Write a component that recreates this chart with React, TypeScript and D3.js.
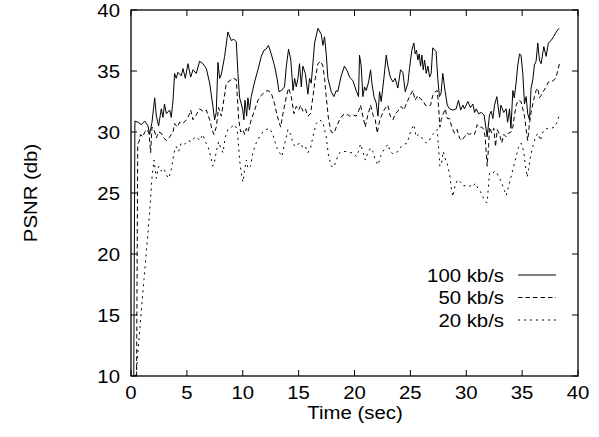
import React from "react";
import * as d3 from "d3";

// PSNR over time for three bitrates, [seconds, dB]
const psnr100: [number, number][] = [
  [0.25,10],[0.35,30.9],[0.63,30.8],[0.92,30.6],[1.22,30.9],[1.52,30.5],[1.67,29.8],[1.88,30.8],[2.12,32.8],[2.27,31.3],[2.47,30.5],[2.71,31.9],[2.86,31.2],[3.0,32.3],[3.16,31.5],[3.46,31.8],[3.6,31.2],[3.76,32.6],[3.9,34.8],[4.05,34.4],[4.2,34.9],[4.5,34.6],[4.65,35.2],[4.86,34.4],[5.1,35.6],[5.34,34.5],[5.55,35.1],[5.84,34.8],[6.14,35.8],[6.44,35.6],[6.74,35.2],[7.04,34.0],[7.33,32.1],[7.48,31.0],[7.63,31.6],[7.78,35.7],[7.93,34.4],[8.08,34.7],[8.38,36.2],[8.67,38.2],[8.97,37.5],[9.21,37.6],[9.42,37.4],[9.57,34.8],[9.72,32.8],[9.87,32.3],[10.0,31.8],[10.1,31.0],[10.2,32.6],[10.35,31.3],[10.46,32.8],[10.6,31.8],[10.76,32.9],[11.06,34.1],[11.36,35.1],[11.66,36.2],[11.9,36.7],[12.1,36.8],[12.3,37.1],[12.55,36.4],[12.85,35.4],[13.09,34.3],[13.24,33.3],[13.45,33.4],[13.74,33.7],[13.9,35.4],[14.1,36.8],[14.3,35.9],[14.5,33.4],[14.64,34.4],[14.79,33.7],[14.94,34.4],[15.08,35.6],[15.24,33.7],[15.38,35.4],[15.6,34.8],[15.83,33.1],[15.98,34.4],[16.13,34.0],[16.43,37.3],[16.73,38.5],[17.03,38.0],[17.17,37.1],[17.32,37.8],[17.47,36.4],[17.62,34.4],[17.92,33.3],[18.15,32.9],[18.37,33.4],[18.5,33.3],[18.81,34.6],[19.1,35.4],[19.35,35.0],[19.56,34.5],[19.86,34.2],[20.15,33.4],[20.36,32.9],[20.45,36.3],[20.6,35.4],[20.75,32.9],[20.9,33.7],[21.05,33.4],[21.26,34.1],[21.44,35.1],[21.56,34.0],[21.74,32.9],[21.94,32.4],[22.1,31.3],[22.24,33.3],[22.39,32.5],[22.63,34.4],[22.84,36.3],[22.99,35.4],[23.2,34.5],[23.44,34.1],[23.64,34.4],[23.88,33.6],[24.12,35.1],[24.33,34.9],[24.54,33.3],[24.78,34.0],[24.92,35.2],[25.13,36.7],[25.31,37.3],[25.43,36.4],[25.55,36.7],[25.67,35.9],[25.79,36.4],[25.91,35.4],[26.03,36.3],[26.15,35.1],[26.27,35.9],[26.42,34.8],[26.57,35.4],[26.72,34.5],[26.86,34.8],[27.0,36.9],[27.3,36.6],[27.45,34.4],[27.6,32.9],[27.75,33.2],[27.9,34.8],[28.1,33.4],[28.3,32.2],[28.5,31.9],[28.8,31.8],[29.1,31.9],[29.3,32.6],[29.5,31.8],[29.7,32.2],[29.84,31.9],[30.14,32.5],[30.38,32.0],[30.59,32.3],[30.74,31.6],[30.9,31.9],[31.1,31.5],[31.34,31.6],[31.6,31.4],[31.87,29.6],[32.08,31.4],[32.23,31.7],[32.38,31.1],[32.53,32.2],[32.74,32.9],[32.98,31.2],[33.1,32.2],[33.36,31.6],[33.57,31.9],[33.7,30.8],[33.87,31.9],[34.0,30.3],[34.17,33.4],[34.3,32.8],[34.47,34.1],[34.6,35.4],[34.77,36.4],[34.9,36.3],[35.06,34.8],[35.21,32.3],[35.36,32.9],[35.5,31.5],[35.66,31.0],[35.8,33.6],[35.96,34.3],[36.1,35.5],[36.25,35.8],[36.4,37.3],[36.55,35.9],[36.7,35.6],[36.94,37.0],[37.15,36.2],[37.35,37.3],[37.6,37.5],[37.8,37.8],[38.05,38.2],[38.3,38.5],
];

const psnr50: [number, number][] = [
  [0.5,10],[0.6,29.0],[0.72,29.2],[0.86,29.8],[1.07,29.6],[1.22,30.0],[1.46,30.2],[1.6,29.9],[1.76,28.3],[1.88,30.4],[2.06,30.2],[2.27,29.5],[2.47,30.0],[2.71,29.9],[2.86,29.6],[3.16,29.3],[3.46,29.6],[3.76,30.0],[3.9,30.7],[4.14,30.4],[4.35,30.8],[4.65,30.7],[4.95,31.0],[5.16,31.3],[5.34,31.8],[5.55,31.0],[5.84,31.4],[6.14,31.9],[6.44,31.7],[6.74,31.8],[7.04,31.0],[7.25,30.2],[7.42,29.8],[7.63,30.4],[7.84,32.0],[8.08,31.3],[8.53,34.0],[9.12,34.4],[9.42,34.3],[9.63,31.1],[9.81,30.0],[10.02,30.2],[10.17,29.8],[10.32,30.3],[10.46,30.0],[10.76,31.0],[11.06,31.8],[11.36,32.6],[11.66,33.0],[11.96,33.3],[12.25,33.4],[12.55,33.2],[12.85,32.3],[13.09,31.3],[13.39,30.4],[13.6,31.5],[13.9,32.9],[14.1,33.6],[14.34,32.9],[14.58,31.5],[14.79,32.1],[15.0,31.8],[15.18,32.2],[15.38,31.7],[15.6,31.9],[15.83,31.3],[16.07,31.5],[16.28,32.9],[16.49,34.4],[16.73,35.6],[16.97,35.8],[17.17,35.4],[17.32,34.4],[17.47,32.9],[17.68,31.0],[17.92,30.0],[18.15,29.9],[18.37,30.4],[18.66,31.0],[18.96,31.4],[19.26,31.5],[19.56,31.3],[19.86,31.4],[20.15,31.3],[20.36,31.7],[20.54,32.2],[20.75,31.3],[20.96,30.4],[21.2,31.4],[21.44,32.2],[21.65,31.4],[21.86,31.0],[22.03,29.9],[22.24,30.9],[22.45,31.4],[22.7,31.9],[22.99,32.2],[23.2,31.3],[23.44,31.0],[23.64,31.5],[23.88,31.7],[24.18,32.1],[24.42,31.8],[24.63,32.3],[24.93,32.9],[25.22,33.4],[25.43,32.6],[25.67,33.0],[25.91,32.7],[26.12,32.6],[26.33,32.2],[26.57,32.1],[26.8,32.2],[27.0,33.0],[27.22,33.3],[27.4,33.4],[27.52,32.1],[27.64,30.4],[27.76,31.0],[27.94,31.5],[28.12,31.9],[28.3,31.1],[28.5,31.1],[28.71,30.4],[28.95,29.9],[29.18,30.2],[29.4,29.5],[29.6,29.3],[29.84,29.6],[30.08,29.9],[30.29,29.8],[30.5,29.9],[30.74,29.8],[30.98,30.6],[31.19,30.4],[31.4,30.4],[31.57,30.2],[31.69,29.6],[31.87,27.2],[32.0,28.8],[32.08,30.4],[32.29,29.9],[32.47,30.3],[32.62,28.8],[32.77,30.2],[32.98,29.8],[33.18,29.1],[33.36,29.8],[33.57,29.6],[33.78,29.9],[34.0,30.0],[34.17,30.4],[34.3,31.3],[34.47,32.2],[34.66,32.6],[34.9,32.5],[35.06,31.9],[35.21,31.3],[35.36,30.2],[35.5,29.3],[35.66,30.7],[35.8,31.6],[35.96,32.3],[36.1,32.9],[36.25,33.4],[36.4,33.6],[36.55,32.8],[36.7,33.0],[36.94,33.4],[37.15,33.7],[37.35,34.1],[37.6,34.1],[37.9,34.3],[38.05,34.5],[38.2,35.1],[38.4,35.8],
];

const psnr20: [number, number][] = [
  [0.45,10],[0.8,14],[1.16,17.9],[1.45,21],[1.7,23.8],[1.88,26.3],[2.06,27.7],[2.27,26.2],[2.47,27.2],[2.71,26.8],[2.95,27.0],[3.16,26.5],[3.37,26.2],[3.6,26.9],[3.85,28.3],[4.05,28.8],[4.26,28.4],[4.5,29.1],[4.8,29.0],[5.1,29.3],[5.4,29.2],[5.64,29.5],[5.84,29.6],[6.14,29.3],[6.44,29.8],[6.65,29.2],[6.89,28.8],[7.13,28.0],[7.33,27.2],[7.48,27.6],[7.63,28.4],[7.84,29.2],[8.02,28.7],[8.23,28.3],[8.44,29.6],[8.67,30.2],[8.97,30.4],[9.27,30.6],[9.51,30.2],[9.63,28.8],[9.72,27.7],[9.87,26.6],[10.02,25.9],[10.17,26.9],[10.32,27.7],[10.46,27.0],[10.7,27.2],[10.9,28.3],[11.2,29.1],[11.5,29.6],[11.8,30.0],[12.1,30.2],[12.4,30.3],[12.7,29.8],[13.0,28.8],[13.3,28.3],[13.5,28.0],[13.74,29.0],[14.04,30.2],[14.28,29.8],[14.49,29.1],[14.7,28.8],[14.94,29.0],[15.18,29.1],[15.38,28.7],[15.6,28.8],[15.83,28.3],[16.07,28.7],[16.28,29.6],[16.58,30.7],[16.88,31.0],[17.17,30.8],[17.47,29.6],[17.68,28.0],[17.92,27.2],[18.15,27.1],[18.37,27.7],[18.66,28.3],[18.96,28.4],[19.26,28.4],[19.56,28.3],[19.86,28.3],[20.15,28.0],[20.36,28.4],[20.54,29.0],[20.75,28.4],[20.96,27.7],[21.2,28.3],[21.44,28.7],[21.65,28.4],[21.86,27.7],[22.1,27.3],[22.33,28.0],[22.54,28.4],[22.75,28.7],[22.99,29.0],[23.2,28.4],[23.44,28.2],[23.64,28.3],[23.88,28.4],[24.18,28.8],[24.48,29.0],[24.72,29.1],[24.93,29.8],[25.13,30.3],[25.31,30.6],[25.52,29.6],[25.73,29.8],[25.97,29.6],[26.21,29.3],[26.42,29.1],[26.63,29.2],[26.8,29.5],[27.0,29.8],[27.22,30.0],[27.4,30.2],[27.52,28.8],[27.64,27.2],[27.76,27.3],[27.94,28.4],[28.12,27.8],[28.3,27.4],[28.5,26.6],[28.65,25.5],[28.8,24.7],[29.0,25.6],[29.25,26.1],[29.49,25.9],[29.7,25.6],[29.9,25.6],[30.14,25.5],[30.38,25.6],[30.59,25.5],[30.8,25.8],[31.04,25.4],[31.28,25.1],[31.48,24.7],[31.69,24.3],[31.87,24.2],[32.08,26.6],[32.29,26.5],[32.53,26.8],[32.77,26.6],[32.98,26.2],[33.18,25.8],[33.42,25.2],[33.57,24.8],[33.78,25.5],[34.0,26.3],[34.25,27.2],[34.47,28.0],[34.66,28.7],[34.9,29.1],[35.15,28.4],[35.27,27.4],[35.45,26.3],[35.57,26.9],[35.75,28.0],[35.96,28.8],[36.17,29.5],[36.4,29.9],[36.64,29.3],[36.76,29.8],[37.0,30.2],[37.3,30.3],[37.6,30.3],[37.9,30.4],[38.13,30.8],[38.34,31.4],
];

const xTicks = [0, 5, 10, 15, 20, 25, 30, 35, 40];
const yTicks = [10, 15, 20, 25, 30, 35, 40];

const series = [
  { name: "100 kb/s", data: psnr100, dash: "none" },
  { name: "50 kb/s", data: psnr50, dash: "4.5,3" },
  { name: "20 kb/s", data: psnr20, dash: "2,4" },
];

const W = 599;
const H = 437;
const left = 131, right = 578, top = 10, bottom = 376;
const font = "'Liberation Sans', Arial, Helvetica, sans-serif";
const fs = 18.5;
const sx = 1.1; // reference glyphs are a little wider than Liberation Sans

// text helper: stretched horizontally around its anchor point
const Label = ({ x, y, anchor = "middle", rotate = 0, children }: any) => (
  <text
    transform={`translate(${x},${y}) rotate(${rotate}) scale(${sx},1)`}
    textAnchor={anchor}
    fontSize={fs}
  >
    {children}
  </text>
);

export default function App() {
  const x = d3.scaleLinear().domain([0, 40]).range([left, right]);
  const y = d3.scaleLinear().domain([10, 40]).range([bottom, top]);
  const line = d3
    .line<[number, number]>()
    .x((d) => x(d[0]))
    .y((d) => y(d[1]));

  const tick = 6;

  return (
    <svg
      width={W}
      height={H}
      style={{ position: "absolute", left: 0, top: 0, background: "#fff" }}
      fontFamily={font}
    >
      <rect x={0} y={0} width={W} height={H} fill="#fff" />

      {/* ticks on all sides, pointing in */}
      {xTicks.map((t) => (
        <g key={"x" + t}>
          <line x1={x(t)} x2={x(t)} y1={bottom} y2={bottom - tick} stroke="#000" />
          <line x1={x(t)} x2={x(t)} y1={top} y2={top + tick} stroke="#000" />
          <Label x={x(t)} y={399}>{t}</Label>
        </g>
      ))}
      {yTicks.map((t) => (
        <g key={"y" + t}>
          <line x1={left} x2={left + tick} y1={y(t)} y2={y(t)} stroke="#000" />
          <line x1={right} x2={right - tick} y1={y(t)} y2={y(t)} stroke="#000" />
          <Label x={120} y={y(t) + 6.5} anchor="end">{t}</Label>
        </g>
      ))}

      {series.map((s) => (
        <path
          key={s.name}
          d={line(s.data) || ""}
          fill="none"
          stroke="#000"
          strokeWidth={1}
          strokeDasharray={s.dash}
        />
      ))}

      <rect
        x={left}
        y={top}
        width={right - left}
        height={bottom - top}
        fill="none"
        stroke="#000"
        strokeWidth={1.3}
      />

      {/* legend */}
      {series.map((s, i) => {
        const ly = 275 + i * 22.5;
        return (
          <g key={"lg" + s.name}>
            <Label x={504} y={ly + 6.5} anchor="end">{s.name}</Label>
            <line
              x1={518}
              x2={556}
              y1={ly}
              y2={ly}
              stroke="#000"
              strokeDasharray={s.dash}
            />
          </g>
        );
      })}

      <Label x={355} y={419}>Time (sec)</Label>
      <Label x={37} y={(top + bottom) / 2} rotate={-90}>PSNR (db)</Label>
    </svg>
  );
}
